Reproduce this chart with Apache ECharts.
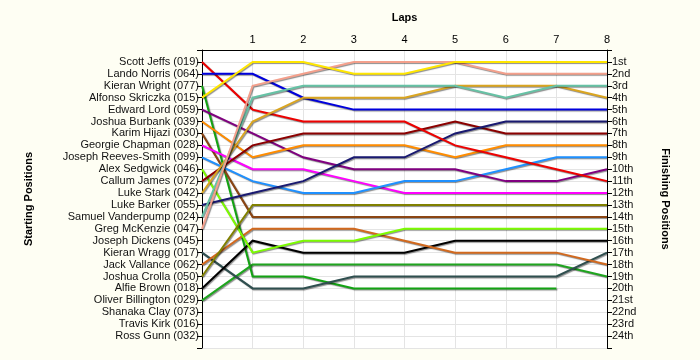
<!DOCTYPE html>
<html>
<head>
<meta charset="utf-8">
<script src="https://cdn.jsdelivr.net/npm/echarts@6/dist/echarts.min.js"></script>
<style>
html,body{margin:0;padding:0;background:#FEFEF3;}
#chart{width:700px;height:360px;}
</style>
</head>
<body>
<div id="chart"></div>
<script>
// Laps (x values)
const laps = [0, 1, 2, 3, 4, 5, 6, 7, 8];
// Starting grid (left axis labels, top to bottom)
const startingNames = [
  'Scott Jeffs (019)', 'Lando Norris (064)', 'Kieran Wright (077)', 'Alfonso Skriczka (015)',
  'Edward Lord (059)', 'Joshua Burbank (039)', 'Karim Hijazi (030)', 'Georgie Chapman (028)',
  'Joseph Reeves-Smith (099)', 'Alex Sedgwick (046)', 'Callum James (072)', 'Luke Stark (042)',
  'Luke Barker (055)', 'Samuel Vanderpump (024)', 'Greg McKenzie (047)', 'Joseph Dickens (045)',
  'Kieran Wragg (017)', 'Jack Vallance (062)', 'Joshua Crolla (050)', 'Alfie Brown (018)',
  'Oliver Billington (029)', 'Shanaka Clay (073)', 'Travis Kirk (016)', 'Ross Gunn (032)'
];
// Finishing positions (right axis labels)
const finishLabels = [
  '1st', '2nd', '3rd', '4th', '5th', '6th', '7th', '8th', '9th', '10th', '11th', '12th',
  '13th', '14th', '15th', '16th', '17th', '18th', '19th', '20th', '21st', '22nd', '23rd', '24th'
];
// Position of each driver at lap 0..8
const scottJeffs        = [1, 5, 6, 6, 6, 8, 9, 10, 11];
const landoNorris       = [2, 2, 4, 5, 5, 5, 5, 5, 5];
const kieranWright      = [3, 19, 19, 20, 20, 20, 20, 20, null];
const alfonsoSkriczka   = [4, 1, 1, 2, 2, 1, 1, 1, 1];
const edwardLord        = [5, 7, 9, 10, 10, 10, 11, 11, 10];
const joshuaBurbank     = [6, 9, 8, 8, 8, 9, 8, 8, 8];
const karimHijazi       = [7, 14, 14, 14, 14, 14, 14, 14, 14];
const georgieChapman    = [8, 10, 10, 11, 12, 12, 12, 12, 12];
const josephReevesSmith = [9, 11, 12, 12, 11, 11, 10, 9, 9];
const alexSedgwick      = [10, 17, 16, 16, 15, 15, 15, 15, 15];
const callumJames       = [11, 8, 7, 7, 7, 6, 7, 7, 7];
const lukeStark         = [12, 6, 4, 4, 4, 3, 3, 3, 4];
const lukeBarker        = [13, 12, 11, 9, 9, 7, 6, 6, 6];
const samuelVanderpump  = [14, 4, 3, 3, 3, 3, 4, 3, 3];
const gregMcKenzie      = [15, 3, 2, 1, 1, 1, 2, 2, 2];
const kieranWragg       = [17, 20, 20, 19, 19, 19, 19, 19, 17];
const jackVallance      = [18, 15, 15, 15, 16, 17, 17, 17, 18];
const joshuaCrolla      = [19, 13, 13, 13, 13, 13, 13, 13, 13];
const alfieBrown        = [20, 16, 17, 17, 17, 16, 16, 16, 16];
const oliverBillington  = [21, 18, 18, 18, 18, 18, 18, 18, 19];

const seriesList = [
  ['Oliver Billington', oliverBillington, '#1FA51F'],
  ['Kieran Wright', kieranWright, '#13A313'],
  ['Kieran Wragg', kieranWragg, '#2F4F4F'],
  ['Alfie Brown', alfieBrown, '#000000'],
  ['Jack Vallance', jackVallance, '#D2691E'],
  ['Alex Sedgwick', alexSedgwick, '#7CFC00'],
  ['Karim Hijazi', karimHijazi, '#8B4513'],
  ['Joshua Crolla', joshuaCrolla, '#808000'],
  ['Georgie Chapman', georgieChapman, '#FF00FF'],
  ['Joseph Reeves-Smith', josephReevesSmith, '#1E90FF'],
  ['Edward Lord', edwardLord, '#800080'],
  ['Joshua Burbank', joshuaBurbank, '#FF8C00'],
  ['Callum James', callumJames, '#8B0000'],
  ['Luke Barker', lukeBarker, '#191970'],
  ['Scott Jeffs', scottJeffs, '#EE0000'],
  ['Lando Norris', landoNorris, '#0000DD'],
  ['Luke Stark', lukeStark, '#DAA520'],
  ['Samuel Vanderpump', samuelVanderpump, '#66C2A5'],
  ['Greg McKenzie', gregMcKenzie, '#F4A08C'],
  ['Alfonso Skriczka', alfonsoSkriczka, '#FFE600']
];

const FONT = 'Liberation Sans';
const chart = echarts.init(document.getElementById('chart'));
chart.setOption({
  backgroundColor: '#FEFEF3',
  animation: false,
  grid: { left: 202, right: 93, top: 50, bottom: 12, show: true, backgroundColor: '#FFFFFF', borderWidth: 0 },
  xAxis: {
    type: 'value', position: 'top', min: 0, max: 8, interval: 1,
    name: 'Laps', nameLocation: 'middle', nameGap: 27,
    nameTextStyle: { fontFamily: FONT, fontSize: 11, fontWeight: 'bold', color: '#000' },
    axisLine: { show: true, lineStyle: { color: '#000', width: 1 } },
    axisTick: { show: false },
    axisLabel: { fontFamily: FONT, fontSize: 11, color: '#000', margin: 5,
      formatter: v => v === 0 ? '' : String(v) },
    splitLine: { show: true, lineStyle: { color: '#E4E4E4', width: 1 } }
  },
  yAxis: [
    {
      type: 'value', inverse: true, min: 0, max: 25, interval: 1, position: 'left',
      name: 'Starting Positions', nameLocation: 'middle', nameGap: 168, nameRotate: 90,
      nameTextStyle: { fontFamily: FONT, fontSize: 11, fontWeight: 'bold', color: '#000' },
      axisLine: { show: true, lineStyle: { color: '#000', width: 1 } },
      axisTick: { show: true, length: 5, lineStyle: { color: '#000' } },
      axisLabel: { fontFamily: FONT, fontSize: 11, color: '#111', margin: 3,
        formatter: v => startingNames[v - 1] || '' },
      splitLine: { show: true, lineStyle: { color: '#E4E4E4', width: 1 } }
    },
    {
      type: 'value', inverse: true, min: 0, max: 25, interval: 1, position: 'right',
      name: 'Finishing Positions', nameLocation: 'middle', nameGap: 53, nameRotate: -90,
      nameTextStyle: { fontFamily: FONT, fontSize: 11, fontWeight: 'bold', color: '#000' },
      axisLine: { show: true, lineStyle: { color: '#000', width: 1 } },
      axisTick: { show: true, inside: false, length: 5, lineStyle: { color: '#000' } },
      axisLabel: { fontFamily: FONT, fontSize: 11, color: '#111', margin: 5,
        formatter: v => finishLabels[v - 1] || '' },
      splitLine: { show: false }
    }
  ],
  series: seriesList.map(([name, pos, color]) => ({
    name, type: 'line', showSymbol: false, symbol: 'none', connectNulls: false,
    data: laps.map((l, i) => [l, pos[i]]).filter(d => d[1] !== null),
    lineStyle: { color, width: 2, join: 'miter',
      shadowColor: 'rgba(0,0,0,0.45)', shadowBlur: 1, shadowOffsetX: 1, shadowOffsetY: 1 }
  }))
});
</script>
</body>
</html>
